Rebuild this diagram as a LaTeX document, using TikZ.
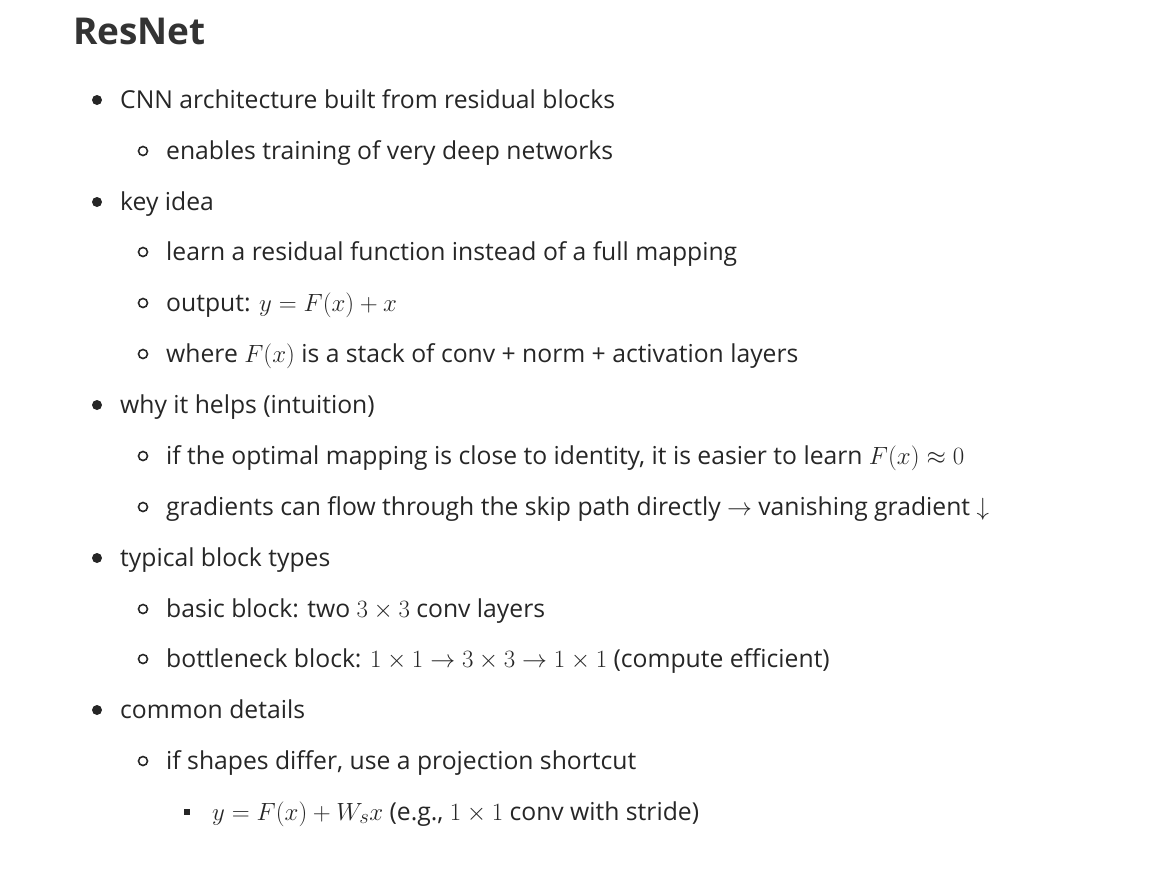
\documentclass[tikz,border=0pt]{standalone}
\usepackage{fontspec}
\setmainfont{Open Sans}
\newcommand{\mth}[1]{{\fontsize{29}{30}\selectfont$#1$}}
\begin{document}
\begin{tikzpicture}[x=1pt,y=1pt,
  item/.style={anchor=base west, inner sep=0pt, font=\fontsize{24.7}{30}\selectfont, text=black!85},
  dotA/.style={fill=black!85, draw=none},
  dotB/.style={draw=black!85, line width=1.6pt},
  dotC/.style={fill=black!85, draw=none}]
\useasboundingbox (0,0) rectangle (1158,-884);

 %title
 \node[anchor=base west, inner sep=0pt, font=\fontsize{37}{44}\selectfont\bfseries, text=black!80] (title) at (73,-44) {ResNet};

 %items
 \foreach \n/\lev/\y/\txt in {
   a/1/100/{CNN architecture built from residual blocks},
   b/2/151/{enables training of very deep networks},
   c/1/202/{key idea},
   d/2/252/{learn a residual function instead of a full mapping},
   e/2/303/{output: \mth{y = F(x) + x}},
   f/2/354/{where \mth{F(x)} is a stack of conv + norm + activation layers},
   g/1/405/{why it helps (intuition)},
   h/2/456/{if the optimal mapping is close to identity, it is easier to learn \mth{F(x) \approx 0}},
   i/2/507/{gradients can flow through the skip path directly \mth{\rightarrow} vanishing gradient \mth{\downarrow}},
   j/1/558/{typical block types},
   k/2/609/{basic block: two \mth{3 \times 3} conv layers},
   l/2/659/{bottleneck block: \mth{1 \times 1 \rightarrow 3 \times 3 \rightarrow 1 \times 1} (compute efficient)},
   m/1/710/{common details},
   n/2/761/{if shapes differ, use a projection shortcut},
   o/3/812/{\mth{y = F(x) + W_s x} (e.g., \mth{1 \times 1} conv with stride)}}{
   \ifcase\lev\or
     \fill[dotA] (97,-\y) circle (5);
     \node[item] (\n) at (120,-\y-8) {\txt};
   \or
     \draw[dotB] (143,-\y) circle (4.5);
     \node[item] (\n) at (166,-\y-8) {\txt};
   \or
     \fill[dotC] (184,-\y-3) rectangle (190,-\y+3);
     \node[item] (\n) at (212,-\y-8) {\txt};
   \fi
 }
\end{tikzpicture}
\end{document}
